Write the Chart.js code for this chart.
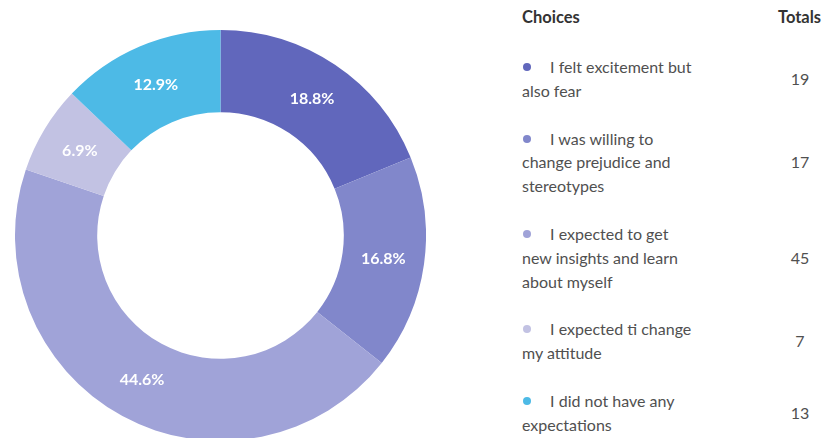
<!DOCTYPE html>
<html>
<head>
<meta charset="utf-8">
<script src="https://cdn.jsdelivr.net/npm/chart.js@4"></script>
<style>
    html, body { margin: 0; padding: 0; background: #fff; overflow: hidden; }
    body { width: 825px; height: 438px; position: relative; font-family: 'Lato', 'Open Sans', sans-serif; }
    #chartBox { position: absolute; left: 15px; top: 30px; width: 411px; height: 411px; }
    #legend { position: absolute; left: 522px; top: 0; width: 303px; color: #505050; font-size: 16px; }
    .head { position: absolute; top: 7px; font-weight: 700; color: #333; font-size: 16.5px; }
    .row { position: relative; padding: 12px 0; line-height: 23.8px; }
    .txt { width: 240px; }
    .dot { display: inline-block; width: 8px; height: 8px; border-radius: 50%; margin-left: 1px; margin-right: 15px; vertical-align: 2px; }
    .tot { position: absolute; left: 256px; width: 44px; text-align: center; top: 50%; transform: translateY(-50%); }
</style>
</head>
<body>
<div id="chartBox"><canvas id="pieChart"></canvas></div>
<div id="legend">
    <div class="head" style="left:0">Choices</div>
    <div class="head" style="left:256px">Totals</div>
    <div id="rows" style="position:absolute; top:43px; left:0; width:303px;"></div>
</div>
<script>
// 数据
var choiceLabels = [
    ['I felt excitement but', 'also fear'],
    ['I was willing to', 'change prejudice and', 'stereotypes'],
    ['I expected to get', 'new insights and learn', 'about myself'],
    ['I expected ti change', 'my attitude'],
    ['I did not have any', 'expectations']
];
var choiceTotals = [19, 17, 45, 7, 13];
var choiceColors = ['#6167bc', '#8187cb', '#a0a3d8', '#c2c2e3', '#4dbae6'];

var myChart;

// 百分比标签
var percentLabels = {
    id: 'percentLabels',
    afterDatasetsDraw: function(chart) {
        var ctx = chart.ctx;
        var meta = chart.getDatasetMeta(0);
        var sum = choiceTotals.reduce(function(a, b) { return a + b; }, 0);
        ctx.save();
        ctx.fillStyle = '#ffffff';
        ctx.font = 'bold 16px Lato';
        ctx.textAlign = 'center';
        ctx.textBaseline = 'middle';
        meta.data.forEach(function(arc, i) {
            var p = arc.getCenterPoint();
            ctx.fillText((choiceTotals[i] / sum * 100).toFixed(1) + '%', p.x, p.y);
        });
        ctx.restore();
    }
};

function initChart() {
    const pieChart = document.getElementById('pieChart');
    const data = {
        labels: choiceLabels.map(function(l) { return l.join(' '); }),
        datasets: [{
            data: choiceTotals,
            backgroundColor: choiceColors,
            borderWidth: 0
        }]
    };
    const config = {
        type: 'doughnut',
        data: data,
        options: {
            responsive: true,
            maintainAspectRatio: false,
            cutout: '60%',
            animation: false,
            plugins: {
                legend: { display: false },
                tooltip: { enabled: false }
            }
        },
        plugins: [percentLabels]
    };
    myChart = new Chart(pieChart, config);
}

// 右侧表格
function initLegend() {
    var rows = document.getElementById('rows');
    choiceLabels.forEach(function(lines, i) {
        var row = document.createElement('div');
        row.className = 'row';
        row.innerHTML = '<div class="txt"><span class="dot" style="background:' + choiceColors[i] + '"></span> ' +
            lines.join('<br>') + '</div><div class="tot">' + choiceTotals[i] + '</div>';
        rows.appendChild(row);
    });
}

initLegend();
initChart();
</script>
</body>
</html>
